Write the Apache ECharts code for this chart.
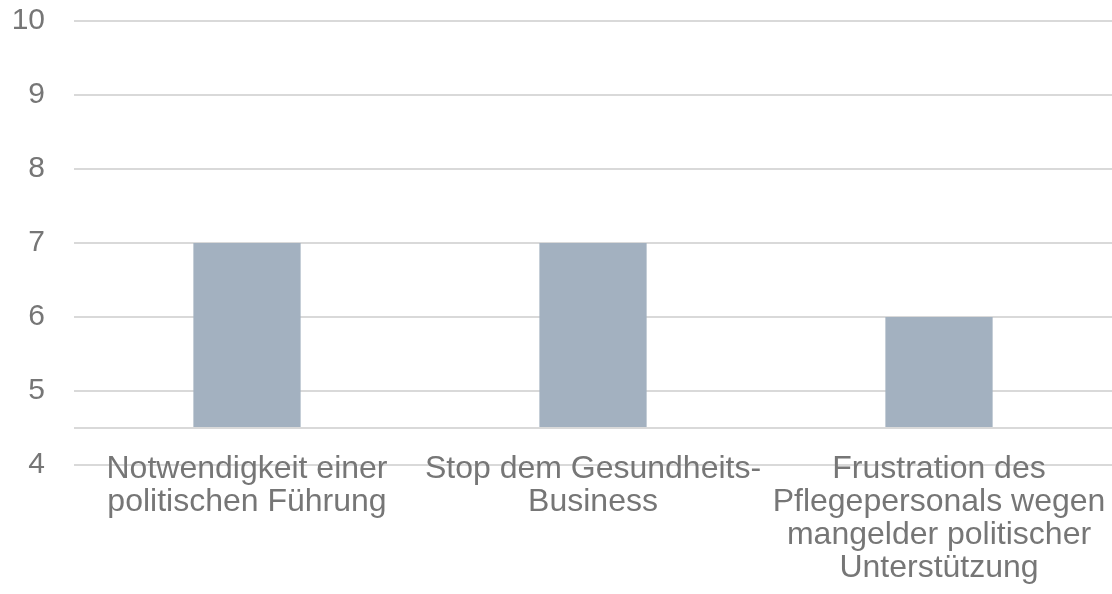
<!DOCTYPE html>
<html>
<head>
<meta charset="utf-8">
<script src="https://cdn.jsdelivr.net/npm/echarts@6/dist/echarts.min.js"></script>
<style>html,body{margin:0;padding:0;background:#fff}#c{width:1112px;height:594px}</style>
</head>
<body>
<div id="c"></div>
<script>
const categories = [
  'Notwendigkeit einer\npolitischen Führung',
  'Stop dem Gesundheits-\nBusiness',
  'Frustration des\nPflegepersonals wegen\nmangelder politischer\nUnterstützung'
];
const values = [7, 7, 6];
const axisCross = 4.5;
const yTicks = { min: 4, max: 10, interval: 1 };

const chart = echarts.init(document.getElementById('c'), null, { renderer: 'canvas' });
const baseData = values.map(() => axisCross);
const topData = values.map(v => v - axisCross);
chart.setOption({
  animation: false,
  grid: { left: 74, right: 0, top: 21, bottom: 129, containLabel: false },
  xAxis: {
    type: 'category',
    data: categories,
    axisLine: { show: false },
    axisTick: { show: false },
    axisLabel: {
      interval: 0,
      margin: -12,
      color: '#767676',
      fontFamily: 'Liberation Sans, Arial, sans-serif',
      fontSize: 32,
      lineHeight: 33
    }
  },
  yAxis: {
    type: 'value',
    min: yTicks.min, max: yTicks.max, interval: yTicks.interval,
    axisLine: { show: false },
    axisTick: { show: false },
    splitLine: { lineStyle: { color: '#d9d9d9', width: 2 } },
    axisLabel: {
      margin: 29,
      color: '#767676',
      fontFamily: 'Liberation Sans, Arial, sans-serif',
      fontSize: 30
    }
  },
  series: [
    {
      type: 'bar', stack: 's', data: baseData, barWidth: '31%',
      itemStyle: { color: 'rgba(0,0,0,0)' }, silent: true,
      markLine: {
        silent: true, symbol: 'none', label: { show: false },
        lineStyle: { color: '#d9d9d9', width: 2, type: 'solid' },
        data: [{ yAxis: axisCross }]
      }
    },
    {
      type: 'bar', stack: 's', data: topData, barWidth: '31%',
      itemStyle: { color: '#a3b1c0' }
    }
  ]
});
</script>
</body>
</html>
